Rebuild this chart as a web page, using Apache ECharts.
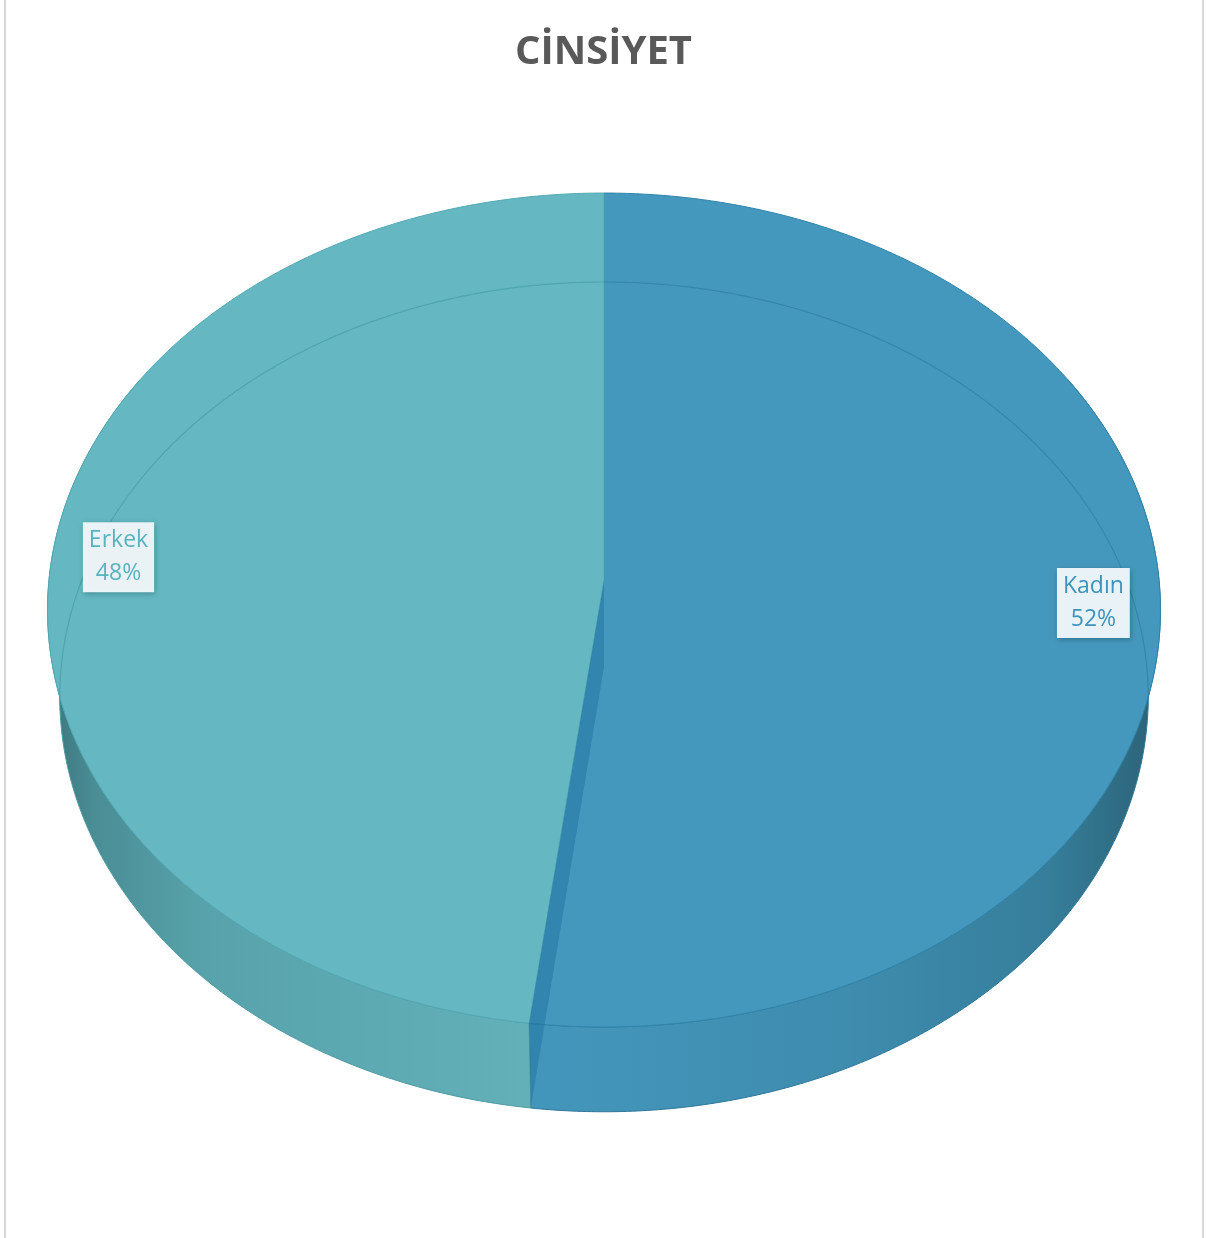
<!DOCTYPE html>
<html>
<head>
<meta charset="utf-8">
<script src="https://cdn.jsdelivr.net/npm/echarts@6/dist/echarts.min.js"></script>
<style>
  html, body { margin: 0; padding: 0; background: #ffffff; }
  #chart { width: 1207px; height: 1238px; }
</style>
</head>
<body>
<div id="chart"></div>
<script>
// ---- data ----
const categories = ['Kadın', 'Erkek'];
const shares = [52, 48];
const titleText = 'CİNSİYET';

// ---- per-slice styling ----
const topColors = ['#4598bd', '#65b8c1'];
const topEdgeColors = ['#2f84aa', '#52a9b3'];
const sideEdgeColors = ['#2f7699', '#4c9aa3'];
const rimColors = ['rgba(25,100,140,0.35)', 'rgba(40,130,140,0.35)'];
const labelColors = ['#3c94bd', '#58b3be'];
const sideStops = [
  [
    { offset: 0, color: '#4396bb' },
    { offset: 0.45, color: '#4396bb' },
    { offset: 0.72, color: '#3e8cae' },
    { offset: 0.9, color: '#367e9b' },
    { offset: 1, color: '#2b6276' }
  ],
  [
    { offset: 0, color: '#3b757c' },
    { offset: 0.04, color: '#4a8d95' },
    { offset: 0.14, color: '#58a3ab' },
    { offset: 0.45, color: '#63b1b9' },
    { offset: 1, color: '#63b1b9' }
  ]
];

// ---- disc geometry (a tilted cylinder seen in slight perspective) ----
const CX = 604, CY_TOP = 580, CY_BOT = 667;
const RX = 555, RY = 414.8, PERSP = 0.072;
const BOT_SX = 0.978, BOT_SY = 0.995;
const SIDE_FROM = 60, SIDE_TO = 300;       // angles whose wall can face the viewer
const LABEL_R = 0.88;

const total = shares.reduce((a, b) => a + b, 0);
const sweeps = shares.map(v => v / total * 360);
const startAngles = [];
sweeps.reduce((acc, s) => { startAngles.push(acc); return acc + s; }, 0);

// angle in degrees, clockwise from 12 o'clock; r in [0,1]
function proj(deg, r, bottom) {
  const t = deg * Math.PI / 180;
  const u = r * Math.sin(t), v = -r * Math.cos(t);
  const d = 1 - PERSP * v;
  const sx = bottom ? BOT_SX : 1, sy = bottom ? BOT_SY : 1;
  return [CX + RX * sx * u / d, (bottom ? CY_BOT : CY_TOP) + RY * sy * v / d];
}
function arc(a0, a1, r, bottom) {
  const n = Math.max(2, Math.ceil(Math.abs(a1 - a0) / 0.5));
  const pts = [];
  for (let j = 0; j <= n; j++) pts.push(proj(a0 + (a1 - a0) * j / n, r, bottom));
  return pts;
}

function renderItem(params, api) {
  const i = params.dataIndex;
  const a0 = startAngles[i], a1 = a0 + sweeps[i];
  const children = [];

  // outer wall
  const s0 = Math.max(a0, SIDE_FROM), s1 = Math.min(a1, SIDE_TO);
  if (s1 > s0) {
    children.push({
      type: 'polygon', z2: 1,
      shape: { points: arc(s0, s1, 1, false).concat(arc(s1, s0, 1, true)) },
      style: {
        fill: { type: 'linear', x: 49, y: 0, x2: 1160, y2: 0, global: true, colorStops: sideStops[i] },
        stroke: sideEdgeColors[i], lineWidth: 1
      }
    });
  }

  // top face
  children.push({
    type: 'polygon', z2: 10,
    shape: { points: [proj(0, 0, false)].concat(arc(a0, a1, 1, false)) },
    style: { fill: topColors[i], stroke: topEdgeColors[i], lineWidth: 1, lineJoin: 'round' }
  });

  // far rim of the base, faintly seen through the top
  [[0, 96], [264, 360]].forEach(([r0, r1]) => {
    const b0 = Math.max(a0, r0), b1 = Math.min(a1, r1);
    if (b1 > b0) {
      children.push({
        type: 'polyline', z2: 15,
        shape: { points: arc(b0, b1, 1, true) },
        style: { fill: null, stroke: rimColors[i], lineWidth: 1.2 }
      });
    }
  });

  // inner cut face at the front boundary
  if (a1 > 90 && a1 < 270) {
    children.push({
      type: 'polygon', z2: 20,
      shape: { points: [proj(a1, 0, false), proj(a1, 1, false), proj(a1, 1, true), proj(a1, 0, true)] },
      style: { fill: 'rgba(20,105,155,0.4)' }
    });
  }

  // data label
  const mid = a0 + sweeps[i] / 2;
  const lp = proj(mid, LABEL_R, false);
  children.push({
    type: 'text', z2: 30,
    style: {
      x: lp[0], y: lp[1],
      text: categories[i] + '\n' + Math.round(shares[i] / total * 100) + '%',
      fill: labelColors[i],
      fontSize: 23, fontFamily: '"Open Sans", sans-serif',
      align: 'center', verticalAlign: 'middle', lineHeight: 33,
      backgroundColor: 'rgba(240,246,249,0.97)',
      padding: [2, 6, 2, 6],
      shadowColor: 'rgba(0,50,70,0.35)', shadowBlur: 6, shadowOffsetX: 1, shadowOffsetY: 2
    }
  });

  return { type: 'group', children };
}

const chart = echarts.init(document.getElementById('chart'), null, { renderer: 'canvas' });
chart.setOption({
  backgroundColor: '#ffffff',
  animation: false,
  title: {
    text: titleText,
    left: 'center', top: 28,
    textStyle: { fontSize: 40, fontWeight: 'bold', color: '#595959', fontFamily: '"Open Sans", sans-serif' }
  },
  graphic: [
    { type: 'rect', shape: { x: 4, y: 0, width: 2, height: 1238 }, style: { fill: '#d9d9d9' }, silent: true },
    { type: 'rect', shape: { x: 1202, y: 0, width: 2, height: 1238 }, style: { fill: '#d9d9d9' }, silent: true }
  ],
  series: [{
    type: 'custom',
    coordinateSystem: 'none',
    silent: true,
    renderItem: renderItem,
    data: shares.map((v, i) => ({ name: categories[i], value: v }))
  }]
});
</script>
</body>
</html>
